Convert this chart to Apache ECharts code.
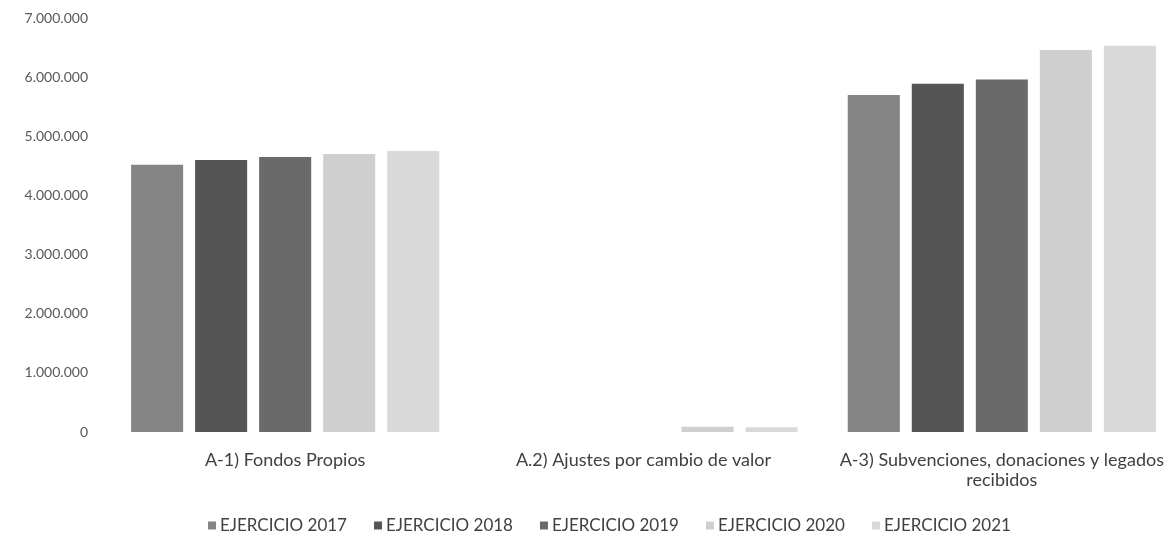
<!DOCTYPE html>
<html>
<head>
<meta charset="utf-8">
<script src="https://cdn.jsdelivr.net/npm/echarts@6/dist/echarts.min.js"></script>
<style>
  html, body { margin: 0; padding: 0; background: #ffffff; }
  #main { width: 1174px; height: 539px; }
</style>
</head>
<body>
<div id="main"></div>
<script>
const categories = ['A-1) Fondos Propios', 'A.2) Ajustes por cambio de valor', 'A-3) Subvenciones, donaciones y legados\nrecibidos'];
const seriesNames = ['EJERCICIO 2017', 'EJERCICIO 2018', 'EJERCICIO 2019', 'EJERCICIO 2020', 'EJERCICIO 2021'];
const values2017 = [4520000, 0, 5700000];
const values2018 = [4600000, 0, 5890000];
const values2019 = [4650000, 0, 5960000];
const values2020 = [4700000, 90000, 6460000];
const values2021 = [4750000, 80000, 6530000];
const yTicks = [0, 1000000, 2000000, 3000000, 4000000, 5000000, 6000000, 7000000];

const colors = ['#858585', '#555555', '#6a6a6a', '#cfcfcf', '#d9d9d9'];
const allValues = [values2017, values2018, values2019, values2020, values2021];

function fmt(v) {
  return String(v).replace(/\B(?=(\d{3})+(?!\d))/g, '.');
}

let el = document.getElementById('main');
let myChart = echarts.init(el);
let option = {
  animation: false,
  color: colors,
  textStyle: { fontFamily: 'Lato, "Open Sans", sans-serif' },
  grid: {
    left: 106,
    width: 1075,
    top: 18,
    bottom: 107,
    outerBoundsMode: 'none'
  },
  legend: {
    top: 512,
    left: 203,
    itemWidth: 8,
    itemHeight: 8,
    itemGap: 27,
    icon: 'rect',
    textStyle: { color: '#404040', fontSize: 17, padding: [0, 0, 0, -1] },
    data: seriesNames
  },
  xAxis: {
    type: 'category',
    data: categories,
    axisLine: { show: false },
    axisTick: { show: false },
    axisLabel: {
      color: '#404040',
      fontSize: 18,
      margin: 18,
      lineHeight: 20,
      interval: 0
    }
  },
  yAxis: {
    type: 'value',
    min: yTicks[0],
    max: yTicks[yTicks.length - 1],
    interval: 1000000,
    splitLine: { show: false },
    axisLine: { show: false },
    axisTick: { show: false },
    axisLabel: {
      color: '#595959',
      fontSize: 14,
      margin: 18,
      formatter: fmt
    }
  },
  series: seriesNames.map((name, i) => ({
    name: name,
    type: 'bar',
    barGap: '23%',
    barCategoryGap: '14%',
    data: allValues[i]
  }))
};
myChart.setOption(option);
</script>
</body>
</html>
